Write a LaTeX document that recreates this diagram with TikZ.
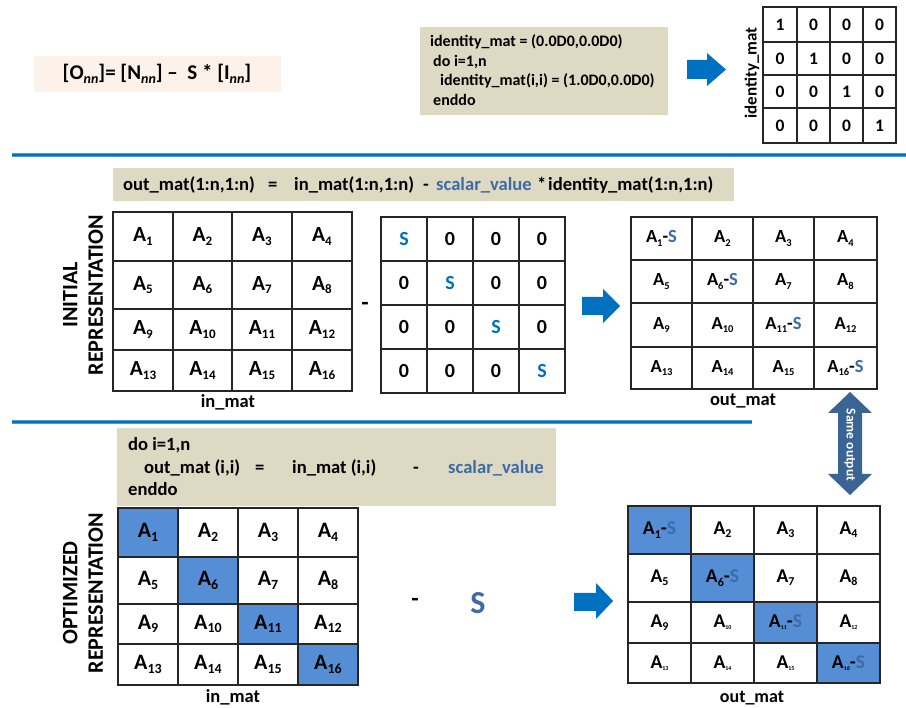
\documentclass[tikz,border=0pt]{standalone}
\usepackage{fontspec}
\setmainfont{Carlito}
\definecolor{tanbox}{HTML}{DDD9C3}
\definecolor{peach}{HTML}{FDF2EA}
\definecolor{arrowblue}{HTML}{0070C0}
\definecolor{sblue}{HTML}{0070C0}
\definecolor{svblue}{HTML}{3D6BA6}
\definecolor{hlfill}{HTML}{558ED5}
\definecolor{dblarrow}{HTML}{3A6494}
\definecolor{gridline}{HTML}{262626}

% subscript with a size chosen per grid
\def\subsz{11}
\newcommand\sbs[1]{\raisebox{-0.35ex}{\fontsize{\subsz}{\subsz}\selectfont #1}}
\newcommand\tsb[1]{\raisebox{-0.2ex}{\fontsize{6}{6}\selectfont #1}}
\newcommand\sv[1]{\textcolor{svblue}{#1}}
\newcommand\sbl[1]{\textcolor{sblue}{#1}}

% 4x4 grid of cells: name, column edges, row edges, font style, list of style/text
\newcommand\cellgrid[5]{%
  \foreach \st/\tx [count=\k from 0] in {#5} {
    \pgfmathtruncatemacro\cc{mod(\k,4)}
    \pgfmathtruncatemacro\rr{div(\k,4)}
    \pgfmathsetmacro\xa{{#2}[\cc]}
    \pgfmathsetmacro\xb{{#2}[\cc+1]}
    \pgfmathsetmacro\ya{{#3}[\rr]}
    \pgfmathsetmacro\yb{{#3}[\rr+1]}
    \pgfmathsetmacro\ww{\xb-\xa}
    \pgfmathsetmacro\hh{\yb-\ya}
    \node[cell,\st,#4,minimum width=\ww pt,minimum height=\hh pt]
      (#1-\rr-\cc) at ({(\xa+\xb)/2},{(\ya+\yb)/2}) {\tx};
  }
}

% right-pointing block arrow: x0, xhead, xtip, shaft top/bottom, head top/bottom
\newcommand\rblock[7]{%
  \fill[arrowblue] (#1,#4) -- (#2,#4) -- (#2,#6) -- (#3,{(#6+#7)/2}) -- (#2,#7)
    -- (#2,#5) -- (#1,#5) -- cycle;
}

\tikzset{
  cell/.style={draw=gridline,line width=1.3pt,inner sep=0pt,anchor=center},
  plain/.style={},
  hl/.style={fill=hlfill},
  codebox/.style={fill=tanbox,inner sep=0pt},
  codetxt/.style={anchor=base west,inner sep=0pt,font=\fontsize{16}{18}\selectfont\bfseries},
  fmltxt/.style={anchor=base west,inner sep=0pt,font=\fontsize{18.6}{20}\selectfont\bfseries},
  lbl/.style={inner sep=0pt,font=\fontsize{18.5}{20}\selectfont\bfseries},
  sectlbl/.style={rotate=90,align=center,inner sep=0pt,font=\fontsize{22}{25.5}\selectfont\bfseries},
  fA/.style={font=\fontsize{21.5}{23}\selectfont\bfseries},
  fAo/.style={font=\fontsize{18.5}{20}\selectfont\bfseries},
  fB/.style={font=\fontsize{22}{24}\selectfont\bfseries},
  fBo/.style={font=\fontsize{19.5}{21}\selectfont\bfseries},
  fZ/.style={font=\fontsize{20}{22}\selectfont\bfseries},
  fI/.style={font=\fontsize{17.5}{19}\selectfont\bfseries},
  sepline/.style={draw=arrowblue!70,line width=3.4pt},
  sepcore/.style={draw=arrowblue,line width=2pt},
}

\begin{document}
\begin{tikzpicture}[x=1pt,y=-1pt]
\useasboundingbox (0,0) rectangle (906,708);

% ---------- top: defining equation and identity matrix ----------
\node[fill=peach,minimum width=247pt,minimum height=36pt,inner sep=0pt] (eqbox) at (157.5,74) {};
\node[inner sep=0pt,font=\fontsize{21}{24}\selectfont\bfseries] (eq) at (157,74)
  {[O\raisebox{-0.4ex}{\fontsize{14}{14}\selectfont\itshape nn}]= [N\raisebox{-0.4ex}{\fontsize{14}{14}\selectfont\itshape nn}] --\ \ S * [I\raisebox{-0.4ex}{\fontsize{14}{14}\selectfont\itshape nn}]};

\node[codebox,minimum width=248pt,minimum height=88pt] (codeA) at (544,71) {};
\node[codetxt] (codeA1) at (430,47) {identity\_mat = (0.0D0,0.0D0)};
\node[codetxt] (codeA2) at (433,66.5) {do i=1,n};
\node[codetxt] (codeA3) at (440,86) {identity\_mat(i,i) = (1.0D0,0.0D0)};
\node[codetxt] (codeA4) at (433,105.5) {enddo};

\rblock{687}{707}{726}{60}{79}{53}{86}

\node[lbl,rotate=90,font=\fontsize{17}{19}\selectfont\bfseries] (idlbl) at (752,73) {identity\_mat};
\cellgrid{idm}{763,797,830,863,896}{7,42,75,108,143}{fI}{%
  plain/1,plain/0,plain/0,plain/0,
  plain/0,plain/1,plain/0,plain/0,
  plain/0,plain/0,plain/1,plain/0,
  plain/0,plain/0,plain/0,plain/1}

\draw[sepline] (12,155) -- (906,155);
\draw[sepcore] (12,155) -- (906,155);

% ---------- initial representation ----------
\node[codebox,minimum width=621pt,minimum height=33pt] (fmlA) at (423.5,184.5) {};
\node[fmltxt] (fA1) at (123,191) {out\_mat(1:n,1:n)};
\node[fmltxt] (fA2) at (268,191) {=};
\node[fmltxt] (fA3) at (294,191) {in\_mat(1:n,1:n)};
\node[fmltxt] (fA4) at (423,191) {-};
\node[fmltxt] (fA5) at (436,191) {\sv{scalar\_value}};
\node[fmltxt] (fA6) at (537,191) {*};
\node[fmltxt] (fA7) at (548,191) {identity\_mat(1:n,1:n)};

\node[sectlbl] (secA) at (83,295) {INITIAL\\REPRESENTATION};

\def\subsz{13}
\cellgrid{ini}{113,173,232,292,352}{212,261,309,350,391}{fA}{%
  plain/A\sbs{1},plain/A\sbs{2},plain/A\sbs{3},plain/A\sbs{4},
  plain/A\sbs{5},plain/A\sbs{6},plain/A\sbs{7},plain/A\sbs{8},
  plain/A\sbs{9},plain/A\sbs{10},plain/A\sbs{11},plain/A\sbs{12},
  plain/A\sbs{13},plain/A\sbs{14},plain/A\sbs{15},plain/A\sbs{16}}
\node[lbl] (iniLbl) at (228,402) {in\_mat};

\node[inner sep=0pt,font=\fontsize{24}{24}\selectfont\bfseries] (minusA) at (365,306) {-};

\cellgrid{smat}{381,427,473,519,565}{217,261,305,349,393}{fZ}{%
  plain/\sbl{S},plain/0,plain/0,plain/0,
  plain/0,plain/\sbl{S},plain/0,plain/0,
  plain/0,plain/0,plain/\sbl{S},plain/0,
  plain/0,plain/0,plain/0,plain/\sbl{S}}

\rblock{582}{603}{620}{297}{315}{289}{323}

\def\subsz{10.5}
\cellgrid{outi}{631,692,753,814,877}{217,260,303,347,389}{fAo}{%
  plain/A\sbs{1}-\sv{S},plain/A\sbs{2},plain/A\sbs{3},plain/A\sbs{4},
  plain/A\sbs{5},plain/A\sbs{6}-\sv{S},plain/A\sbs{7},plain/A\sbs{8},
  plain/A\sbs{9},plain/A\sbs{10},plain/A\sbs{11}-\sv{S},plain/A\sbs{12},
  plain/A\sbs{13},plain/A\sbs{14},plain/A\sbs{15},plain/A\sbs{16}-\sv{S}}
\node[lbl] (outiLbl) at (743,401) {out\_mat};

% double arrow linking the two results
\fill[dblarrow] (850,392) -- (872,413) -- (862,413) -- (862,474) -- (872,474)
  -- (850,495) -- (828,474) -- (838,474) -- (838,413) -- (828,413) -- cycle;
\node[rotate=-90,inner sep=0pt,text=white,font=\fontsize{13.5}{14}\selectfont\bfseries] (same) at (850,445) {Same output};

\draw[sepline] (12,422) -- (752,422);
\draw[sepcore] (12,422) -- (752,422);

% ---------- optimized representation ----------
\node[codebox,minimum width=439pt,minimum height=78pt] (codeB) at (336.5,467) {};
\node[fmltxt] (cB1) at (128,451) {do i=1,n};
\node[fmltxt] (cB2) at (144,473.5) {out\_mat (i,i)};
\node[fmltxt] (cB3) at (255,473.5) {=};
\node[fmltxt] (cB4) at (292,473.5) {in\_mat (i,i)};
\node[fmltxt] (cB5) at (413,473.5) {-};
\node[fmltxt] (cB6) at (448,473.5) {\sv{scalar\_value}};
\node[fmltxt] (cB7) at (128,496) {enddo};

\node[sectlbl] (secB) at (83,593) {OPTIMIZED\\REPRESENTATION};

\def\subsz{14}
\cellgrid{opti}{118,178,238,298,358}{508,557,604,644,685}{fB}{%
  hl/A\sbs{1},plain/A\sbs{2},plain/A\sbs{3},plain/A\sbs{4},
  plain/A\sbs{5},hl/A\sbs{6},plain/A\sbs{7},plain/A\sbs{8},
  plain/A\sbs{9},plain/A\sbs{10},hl/A\sbs{11},plain/A\sbs{12},
  plain/A\sbs{13},plain/A\sbs{14},plain/A\sbs{15},hl/A\sbs{16}}
\node[lbl] (optiLbl) at (233,697) {in\_mat};

\node[inner sep=0pt,font=\fontsize{24}{24}\selectfont\bfseries] (minusB) at (415,602) {-};
\node[inner sep=0pt,font=\fontsize{32}{32}\selectfont\bfseries,text=svblue] (bigS) at (478,603) {S};

\rblock{574}{596}{613}{593}{611}{583}{619}

\def\subsz{12}
\cellgrid{opto}{628,691,754,817,880}{506,554,602,643,683}{fBo}{%
  hl/A\sbs{1}-\sv{S},plain/A\sbs{2},plain/A\sbs{3},plain/A\sbs{4},
  plain/A\sbs{5},hl/A\sbs{6}-\sv{S},plain/A\sbs{7},plain/A\sbs{8},
  plain/A\sbs{9},plain/A\tsb{10},hl/A\tsb{11}-\sv{S},plain/A\tsb{12},
  plain/A\tsb{13},plain/A\tsb{14},plain/A\tsb{15},hl/A\tsb{16}-\sv{S}}
\node[lbl,font=\fontsize{18}{19}\selectfont\bfseries] (optoLbl) at (752,698) {out\_mat};
\end{tikzpicture}
\end{document}
